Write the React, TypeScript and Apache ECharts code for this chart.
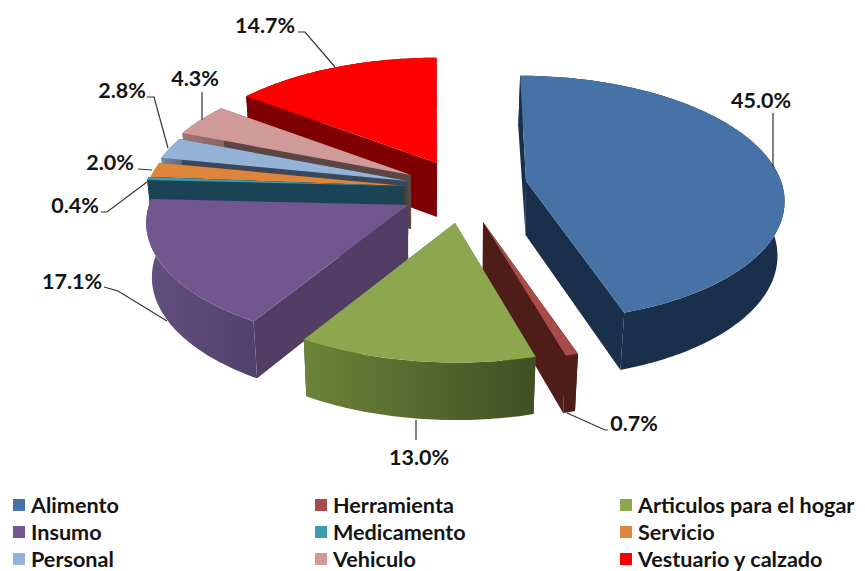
import React, { useEffect, useRef } from "react";
import * as echarts from "echarts";

// Spending categories and their share of the total, in percent.
const categories = [
  "Alimento",
  "Herramienta",
  "Articulos para el hogar",
  "Insumo",
  "Medicamento",
  "Servicio",
  "Personal",
  "Vehiculo",
  "Vestuario y calzado",
];
const shares = [45.0, 0.7, 13.0, 17.1, 0.4, 2.0, 2.8, 4.3, 14.7];

// Colours: top surface, then the shaded sides.
const topColors = ["#4672A6", "#A94C49", "#8CA74D", "#72568F", "#3D9AB1", "#DE843B", "#95B3D7", "#D09A98", "#FF0000"];
const faceColors = ["#1A2F4B", "#4E1D18", "#3F5024", "#523D65", "#1B4356", "#5C3A1E", "#3C475C", "#5C4645", "#7F0000"];
const wallLight = ["#1A2F4B", "#4E1D18", "#6C8439", "#64507F", "#1B4356", "#A8622A", "#6F86A2", "#A07574", "#7F0000"];
const wallDark = ["#1A2F4B", "#4E1D18", "#3F5024", "#52406B", "#1B4356", "#8A5020", "#5A6C84", "#8A6261", "#7F0000"];

// Where the tip of each pulled-out slice sits on the page.
const sliceTips: [number, number][] = [
  [526, 181],
  [483, 222],
  [455, 223],
  [408, 205],
  [404, 186],
  [406, 186],
  [408, 181],
  [411, 175],
  [437, 163],
];

// Label centre and leader line for each slice.
const labelCentres: [number, number][] = [
  [761, 100],
  [634, 423],
  [419, 457],
  [72, 281],
  [75, 205],
  [110, 162],
  [122, 90],
  [195, 78],
  [265, 25],
];
const leaderLines: [number, number][][] = [
  [[773, 113], [773, 167]],
  [[567, 413], [605, 430], [608, 430]],
  [[416, 420], [416, 440]],
  [[104, 287], [118, 291], [167, 321]],
  [[147, 182], [107, 212], [101, 212]],
  [[138, 169], [152, 170]],
  [[147, 97], [154, 97], [168, 148]],
  [[202, 92], [202, 120]],
  [[298, 32], [305, 32], [335, 67]],
];

// Far slices are painted first so the nearer ones can overlap them.
const paintOrder = [8, 7, 6, 5, 4, 3, 0, 1, 2];

// Projection of the tilted disc.
const RADIUS_RIGHT = 255;
const RADIUS_LEFT = 259;
const RADIUS_Y = 120;
const PERSPECTIVE = 0.14;
const VANISH_X = 430;
const THICKNESS = 54;

const FONT = "Lato, Carlito, sans-serif";
const TEXT_COLOR = "#141414";

const total = shares.reduce((a, b) => a + b, 0);
const startAngles = shares.map((_, i) => (shares.slice(0, i).reduce((a, b) => a + b, 0) / total) * 360);

function project(tip: [number, number], deg: number) {
  const t = (deg * Math.PI) / 180;
  const u = Math.sin(t);
  const v = -Math.cos(t);
  const s = 1 / (1 - PERSPECTIVE * v);
  const radiusX = u >= 0 ? RADIUS_RIGHT : RADIUS_LEFT;
  return {
    x: tip[0] + radiusX * u * s + (tip[0] - VANISH_X) * 0.5 * (s - 1),
    y: tip[1] + RADIUS_Y * v * s,
    s,
  };
}

// The same point dropped to the underside of the disc.
function lower(p: { x: number; y: number; s: number }): number[] {
  return [VANISH_X + (p.x - VANISH_X) * 0.98, p.y + THICKNESS * (1 + (p.s - 1) * 0.4)];
}

function sliceRenderer(index: number) {
  return (_params: unknown, api: any) => {
    const sweep = (api.value(0) / total) * 360;
    const from = startAngles[index];
    const tip = sliceTips[index];
    const steps = Math.max(2, Math.ceil(sweep));
    const rim = Array.from({ length: steps + 1 }, (_, k) => project(tip, from + (sweep * k) / steps));
    const rimTop = rim.map((p) => [p.x, p.y]);
    const rimBottom = rim.map(lower);
    const tipBottom = [VANISH_X + (tip[0] - VANISH_X) * 0.995, tip[1] + THICKNESS];

    const face = (top: number[], bottom: number[]) => ({
      type: "polygon",
      shape: { points: [tip, top, bottom, tipBottom] },
      style: { fill: faceColors[index] },
    });

    return {
      type: "group",
      children: [
        face(rimTop[0], rimBottom[0]),
        face(rimTop[steps], rimBottom[steps]),
        {
          type: "polygon",
          shape: { points: [...rimTop, ...rimBottom.slice().reverse()] },
          style: {
            fill: new echarts.graphic.LinearGradient(0, 0, 1, 0, [
              { offset: 0, color: wallLight[index] },
              { offset: 1, color: wallDark[index] },
            ]),
          },
        },
        {
          type: "polygon",
          shape: { points: [tip, ...rimTop] },
          style: { fill: topColors[index] },
        },
        {
          type: "polyline",
          shape: { points: leaderLines[index] },
          style: { stroke: "#333333", lineWidth: 1.2, fill: "none" },
        },
        {
          type: "text",
          x: labelCentres[index][0],
          y: labelCentres[index][1],
          style: {
            text: `${api.value(0).toFixed(1)}%`,
            fontFamily: FONT,
            fontWeight: "bold",
            fontSize: 21.5,
            fill: TEXT_COLOR,
            align: "center",
            verticalAlign: "middle",
          },
        },
      ],
    };
  };
}

function legendColumn(names: string[], left: number) {
  return {
    show: true,
    orient: "vertical" as const,
    left,
    top: 494,
    height: 120,
    itemWidth: 12,
    itemHeight: 12,
    itemGap: 5,
    icon: "rect",
    padding: 0,
    selectedMode: false,
    data: names,
    textStyle: {
      fontFamily: FONT,
      fontWeight: "bold" as const,
      fontSize: 21.6,
      lineHeight: 22,
      color: TEXT_COLOR,
      padding: [0, 0, 0, 1],
    },
  };
}

export default function App() {
  const host = useRef<HTMLDivElement>(null);

  useEffect(() => {
    document.body.style.margin = "0";
    const chart = echarts.init(host.current!, undefined, { renderer: "svg" });
    chart.setOption({
      animation: false,
      backgroundColor: "#ffffff",
      legend: [
        legendColumn([categories[0], categories[3], categories[6]], 13),
        legendColumn([categories[1], categories[4], categories[7]], 315),
        legendColumn([categories[2], categories[5], categories[8]], 620),
      ],
      series: paintOrder.map((i) => ({
        type: "custom",
        name: categories[i],
        coordinateSystem: "none",
        silent: true,
        itemStyle: { color: topColors[i] },
        data: [[shares[i]]],
        renderItem: sliceRenderer(i),
      })),
    });
    return () => chart.dispose();
  }, []);

  return <div ref={host} style={{ width: 865, height: 571 }} />;
}
